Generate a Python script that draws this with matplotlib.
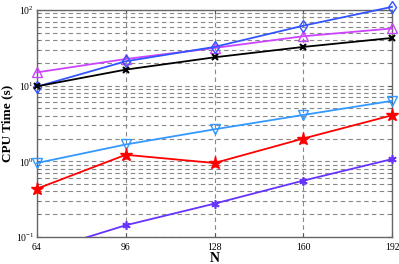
import matplotlib
matplotlib.use("Agg")
import matplotlib.pyplot as plt
from matplotlib.ticker import LogLocator, NullFormatter

plt.rcParams['font.family'] = ['Liberation Serif', 'DejaVu Serif']
plt.rcParams['mathtext.fontset'] = 'custom'
plt.rcParams['mathtext.rm'] = 'Liberation Serif'
plt.rcParams['mathtext.it'] = 'Liberation Serif:italic'
plt.rcParams['mathtext.bf'] = 'Liberation Serif:bold'

N = [64, 96, 128, 160, 192]
s_diamond = [9.7, 21.0, 32.5, 62.0, 110.0]
s_triangle = [15.0, 22.5, 31.5, 45.0, 57.0]
s_cross = [9.8, 16.3, 23.7, 32.5, 42.7]
s_tridown = [0.95, 1.67, 2.65, 4.1, 6.3]
s_star = [0.435, 1.22, 0.95, 2.0, 4.06]
s_aster = [0.062, 0.143, 0.276, 0.556, 1.07]

xticks = [64, 96, 128, 160, 192]

fig = plt.figure(figsize=(3.99, 2.64), dpi=100)
ax = fig.add_axes([37/399, 27/264, 355/399, 227/264])

lw = 1.3
ax.plot(N, s_triangle, color='#cc44ff', marker='^', ms=6.5, mfc='none', mew=1.0, lw=lw, clip_on=False, zorder=3)
ax.plot(N, s_diamond, color='#3355ff', marker='d', ms=6.5, mfc='none', mew=1.0, lw=lw, clip_on=False, zorder=3)
ax.plot(N, s_cross, color='black', marker='x', ms=4, mew=1.5, lw=lw, clip_on=False, zorder=3)
ax.plot(N, s_tridown, color='#3399ff', marker='v', ms=6.5, mfc='none', mew=1.0, lw=lw, clip_on=False, zorder=3)
ax.plot(N, s_star, color='#ff0000', marker='*', ms=9.5, lw=lw, clip_on=False, zorder=3)
# asterisk series: line clipped at the bottom, markers only within axes
ax.plot(N, s_aster, color='#6633ff', lw=lw, zorder=3)
ax.plot(N[1:], s_aster[1:], color='#6633ff', marker=(6, 2, 0), ms=6, mew=1.2, lw=0, clip_on=False, zorder=3)

ax.set_yscale('log')
ax.set_ylim(0.1, 100)
ax.set_xlim(64, 192)
ax.set_xticks(xticks)
ax.set_xticklabels([str(t) for t in xticks])
ax.yaxis.set_major_locator(LogLocator(base=10, numticks=10))
ax.yaxis.set_minor_locator(LogLocator(base=10, subs=range(2, 10), numticks=10))
ax.yaxis.set_minor_formatter(NullFormatter())

gkw = dict(color='#888888', linestyle=(0, (4, 3)), linewidth=0.8)
ax.grid(True, which='major', axis='both', **gkw)
ax.grid(True, which='minor', axis='y', **gkw)
ax.set_axisbelow(True)

ax.tick_params(which='both', direction='in', labelsize=7, top=True, right=True, color='#555555')
ax.tick_params(axis='x', pad=4)
ax.tick_params(axis='y', pad=2)
ax.tick_params(which='major', length=3)
ax.tick_params(which='minor', length=1.5)
for sp in ax.spines.values():
    sp.set_color('#666666')
    sp.set_linewidth(1.0)

ax.set_xlabel('N', fontsize=10, fontweight='bold', labelpad=0)
ax.set_ylabel('CPU Time (s)', fontsize=9.5, fontweight='bold')
ax.yaxis.set_label_coords(-0.066, 0.5)

fig.savefig('out.png', dpi=100)
